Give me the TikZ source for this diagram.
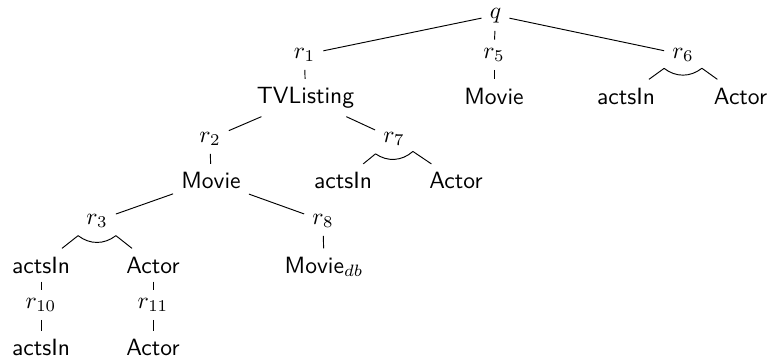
\documentclass[tikz,border=0pt]{standalone}
\begin{document}
\begin{tikzpicture}[x=0.425pt,y=-0.425pt,
  tn/.style={font=\sffamily,anchor=base},
  rn/.style={anchor=base},
  andarc/.style={bend right=38}]
\useasboundingbox (0,0) rectangle (767,360);
% row 0
\node[rn] (q) at (495.5,18) {$q$};
% row 1
\node[rn] (r1) at (304.5,58) {$r_1$};
\node[rn] (r5) at (494,58) {$r_5$};
\node[rn] (r6) at (683,58) {$r_6$};
% row 2
\node[tn] (tv) at (305.5,103.5) {TVListing};
\node[tn] (m2) at (494,104) {Movie};
\node[tn] (a2) at (626,104) {actsIn};
\node[tn] (c2) at (740.5,104) {Actor};
% row 3
\node[rn] (r2) at (210,142) {$r_2$};
\node[rn] (r7) at (394,142) {$r_7$};
% row 4
\node[tn] (m4) at (211,188.5) {Movie};
\node[tn] (a4) at (343,188.5) {actsIn};
\node[tn] (c4) at (456,188.5) {Actor};
% row 5
\node[rn] (r3) at (97,224) {$r_3$};
\node[rn] (r8) at (323,224) {$r_8$};
% row 6
\node[tn] (a6) at (41,273) {actsIn};
\node[tn] (c6) at (153,273) {Actor};
\node[tn] (mdb) at (324,273) {Movie$_{db}$};
% row 7
\node[rn] (r10) at (41,308) {$r_{10}$};
\node[rn] (r11) at (153,308) {$r_{11}$};
% row 8
\node[tn] (a8) at (41,355.5) {actsIn};
\node[tn] (c8) at (153,355.5) {Actor};
% edges
\draw (q) -- (r1);
\draw (q) -- (r5);
\draw (q) -- (r6);
\draw (r1) -- (tv);
\draw (r5) -- (m2);
\draw (r6) -- coordinate[pos=0] (r6l) (a2);
\draw (r6) -- coordinate[pos=0] (r6r) (c2);
\draw (r6l) to[andarc] (r6r);
\draw (tv) -- (r2);
\draw (tv) -- (r7);
\draw (r2) -- (m4);
\draw (r7) -- coordinate[pos=0] (r7l) (a4);
\draw (r7) -- coordinate[pos=0] (r7r) (c4);
\draw (r7l) to[andarc] (r7r);
\draw (m4) -- (r3);
\draw (m4) -- (r8);
\draw (r3) -- coordinate[pos=0] (r3l) (a6);
\draw (r3) -- coordinate[pos=0] (r3r) (c6);
\draw (r3l) to[andarc] (r3r);
\draw (r8) -- (mdb);
\draw (a6) -- (r10);
\draw (r10) -- (a8);
\draw (c6) -- (r11);
\draw (r11) -- (c8);
\end{tikzpicture}
\end{document}
